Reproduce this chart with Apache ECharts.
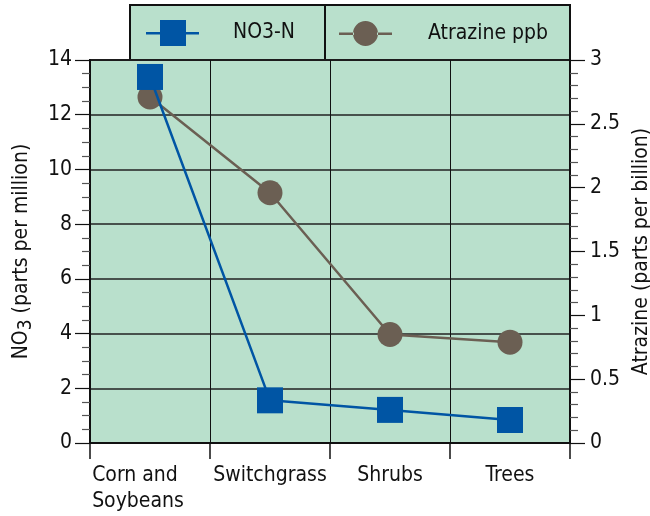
<!DOCTYPE html>
<html><head><meta charset="utf-8">
<script src="https://cdn.jsdelivr.net/npm/echarts@6/dist/echarts.min.js"></script>
<style>html,body{margin:0;padding:0;background:#fff}#c{width:650px;height:516px}</style>
</head><body><div id="c"></div>
<script>
const categories = ['Corn and\nSoybeans', 'Switchgrass', 'Shrubs', 'Trees'];
const no3Values = [13.38, 1.56, 1.21, 0.84];
const atrazineValues = [2.71, 1.96, 0.85, 0.79];
const seriesNames = ['NO3-N', 'Atrazine ppb'];

const FONT = '"DejaVu Sans Condensed", "Liberation Sans Narrow", sans-serif';
const FS = 21;
const BG = '#b9e0cc';
const BLUE = '#0055a4';
const BROWN = '#6b5f53';

const squareIcon = 'path://M0,12L14,12L14,0L40,0L40,12L53,12L53,14.5L40,14.5L40,26L14,26L14,14.5L0,14.5Z';
const circleIcon = 'path://M0,12h15v2.5h-15Z M38,12h15v2.5h-15Z M14,13a12.5,12.5 0 1,0 25,0a12.5,12.5 0 1,0 -25,0Z';

function xLabel(v) {
  if (v.indexOf('\n') >= 0) {
    const parts = v.split('\n');
    return '{l|' + parts[0] + '}\n{l|' + parts[1] + '    }';
  }
  return '{c|' + v + '}';
}

const chart = echarts.init(document.getElementById('c'));
chart.setOption({
  animation: false,
  backgroundColor: '#fff',
  textStyle: { fontFamily: FONT, color: '#111' },
  grid: { left: 90, right: 80, top: 60, bottom: 73, show: true, backgroundColor: BG, borderColor: '#111', borderWidth: 2, outerBoundsMode: 'none', containLabel: false },
  graphic: [
    { type: 'rect', shape: { x: 130, y: 5, width: 195, height: 55 }, style: { fill: BG, stroke: '#111', lineWidth: 2 }, z: 0 },
    { type: 'rect', shape: { x: 325, y: 5, width: 245, height: 55 }, style: { fill: BG, stroke: '#111', lineWidth: 2 }, z: 0 }
  ],
  legend: [
    { data: [{ name: seriesNames[0], icon: squareIcon }], left: 146, top: 20, padding: 0, itemWidth: 53, itemHeight: 26, itemGap: 0,
      itemStyle: { color: BLUE, borderWidth: 0 },
      textStyle: { fontFamily: FONT, fontSize: FS, color: '#111', padding: [2, 0, 0, 29] } },
    { data: [{ name: seriesNames[1], icon: circleIcon }], left: 339, top: 21, padding: 0, itemWidth: 53, itemHeight: 25, itemGap: 0,
      itemStyle: { color: BROWN, borderWidth: 0 },
      textStyle: { fontFamily: FONT, fontSize: FS, color: '#111', padding: [2, 0, 0, 31] } }
  ],
  xAxis: {
    type: 'category', data: categories, boundaryGap: true,
    axisLine: { lineStyle: { color: '#111', width: 2 } },
    axisTick: { show: true, length: 16, lineStyle: { color: '#111', width: 1.5 } },
    splitLine: { show: true, lineStyle: { color: '#111', width: 1 } },
    axisLabel: {
      interval: 0, margin: 20, formatter: xLabel,
      rich: {
        l: { fontFamily: FONT, fontSize: FS, color: '#111', align: 'left', lineHeight: 26 },
        c: { fontFamily: FONT, fontSize: FS, color: '#111', lineHeight: 26 }
      }
    }
  },
  yAxis: [
    {
      type: 'value', min: 0, max: 14, interval: 2, position: 'left',
      name: '{a|NO}{s|3}{a| (parts per million)}', nameLocation: 'middle', nameGap: 54, nameRotate: 90,
      nameTextStyle: { rich: { a: { fontFamily: FONT, fontSize: FS, color: '#111' }, s: { fontFamily: FONT, fontSize: 19, color: '#111', padding: [10, 0, 0, 0] } } },
      axisLine: { show: true, lineStyle: { color: '#111', width: 2 } },
      axisTick: { show: true, length: 15, lineStyle: { color: '#111', width: 1.2 } },
      minorTick: { show: true, splitNumber: 4, length: 8, lineStyle: { color: '#555', width: 1.2 } },
      splitLine: { show: true, lineStyle: { color: '#222', width: 1.5 } },
      axisLabel: { fontFamily: FONT, fontSize: FS, color: '#111', margin: 18 }
    },
    {
      type: 'value', min: 0, max: 3, interval: 0.5, position: 'right',
      name: 'Atrazine (parts per billion)', nameLocation: 'middle', nameGap: 56, nameRotate: 90,
      nameTextStyle: { fontFamily: FONT, fontSize: FS, color: '#111' },
      axisLine: { show: true, lineStyle: { color: '#111', width: 2 } },
      axisTick: { show: true, length: 15, lineStyle: { color: '#111', width: 1.2 } },
      minorTick: { show: true, splitNumber: 5, length: 8, lineStyle: { color: '#555', width: 1.2 } },
      splitLine: { show: false },
      axisLabel: { fontFamily: FONT, fontSize: FS, color: '#111', margin: 20 }
    }
  ],
  series: [
    { name: seriesNames[1], type: 'line', yAxisIndex: 1, data: atrazineValues,
      symbol: 'circle', symbolSize: 25, showAllSymbol: true,
      lineStyle: { color: BROWN, width: 2.5 }, itemStyle: { color: BROWN, borderWidth: 0 }, z: 3 },
    { name: seriesNames[0], type: 'line', yAxisIndex: 0, data: no3Values,
      symbol: 'rect', symbolSize: 26, showAllSymbol: true,
      lineStyle: { color: BLUE, width: 2.5 }, itemStyle: { color: BLUE, borderWidth: 0 }, z: 4 }
  ]
});
</script></body></html>
